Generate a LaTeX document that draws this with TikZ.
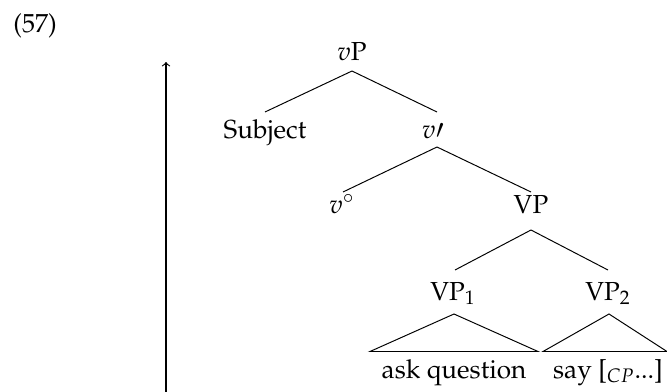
\documentclass[tikz,border=0pt]{standalone}
\usepackage[T1]{fontenc}
\usepackage{mathpazo}
\usetikzlibrary{calc}

\tikzset{
  lbl/.style={anchor=base, inner sep=0pt, font=\fontsize{12pt}{14pt}\selectfont},
  branch/.style={line width=0.45pt},
  scopearrow/.style={line width=0.5pt, -to}
}

\begin{document}
\begin{tikzpicture}[x=0.46pt, y=-0.46pt]
  \useasboundingbox (0,0) rectangle (667,392);

  % example number
  \node[lbl, anchor=base west] (exnum) at (13,32) {(57)};

  % tree nodes (placed at their baselines)
  \node[lbl] (vP)   at (352,60)  {$v$P};
  \node[lbl] (subj) at (265,138) {Subject};
  \node[lbl] (vbar) at (433,138) {$v\prime$};
  \node[lbl] (vhd)  at (342,213) {$v^{\circ}$};
  \node[lbl] (VP)   at (531,213) {VP};
  \node[lbl] (VPa)  at (453,300) {VP$_1$};
  \node[lbl] (VPb)  at (608,300) {VP$_2$};
  \node[lbl] (ask)  at (454,378) {ask question};
  \node[lbl] (say)  at (608,378) {say [$_{CP}$...]};

  % branches
  \draw[branch] ($(vP.base)+(0,11)$) -- ($(subj.base)+(0,-26)$);
  \draw[branch] ($(vP.base)+(0,11)$) -- ($(vbar.base)+(4,-26)$);
  \draw[branch] ($(vbar.base)+(4,9)$) -- ($(vhd.base)+(1,-21)$);
  \draw[branch] ($(vbar.base)+(4,9)$) -- ($(VP.base)+(0,-21)$);
  \draw[branch] ($(VP.base)+(0,17)$) -- ($(VPa.base)+(2,-30)$);
  \draw[branch] ($(VP.base)+(0,17)$) -- ($(VPb.base)+(0,-30)$);

  % roofs over the two lexical VPs
  \draw[branch] ($(VPa.base)+(1,14)$) -- ($(ask.base)+(-84,-26.5)$)
                -- ($(ask.base)+(84,-26.5)$) -- cycle;
  \draw[branch] ($(VPb.base)+(1,14)$) -- ($(say.base)+(-65,-26.5)$)
                -- ($(say.base)+(59,-26.5)$) -- cycle;

  % upward arrow beside the tree
  \coordinate (arrlow) at (166,392);
  \coordinate (arrtop) at (166,62);
  \draw[scopearrow] (arrlow) -- (arrtop);
\end{tikzpicture}
\end{document}
